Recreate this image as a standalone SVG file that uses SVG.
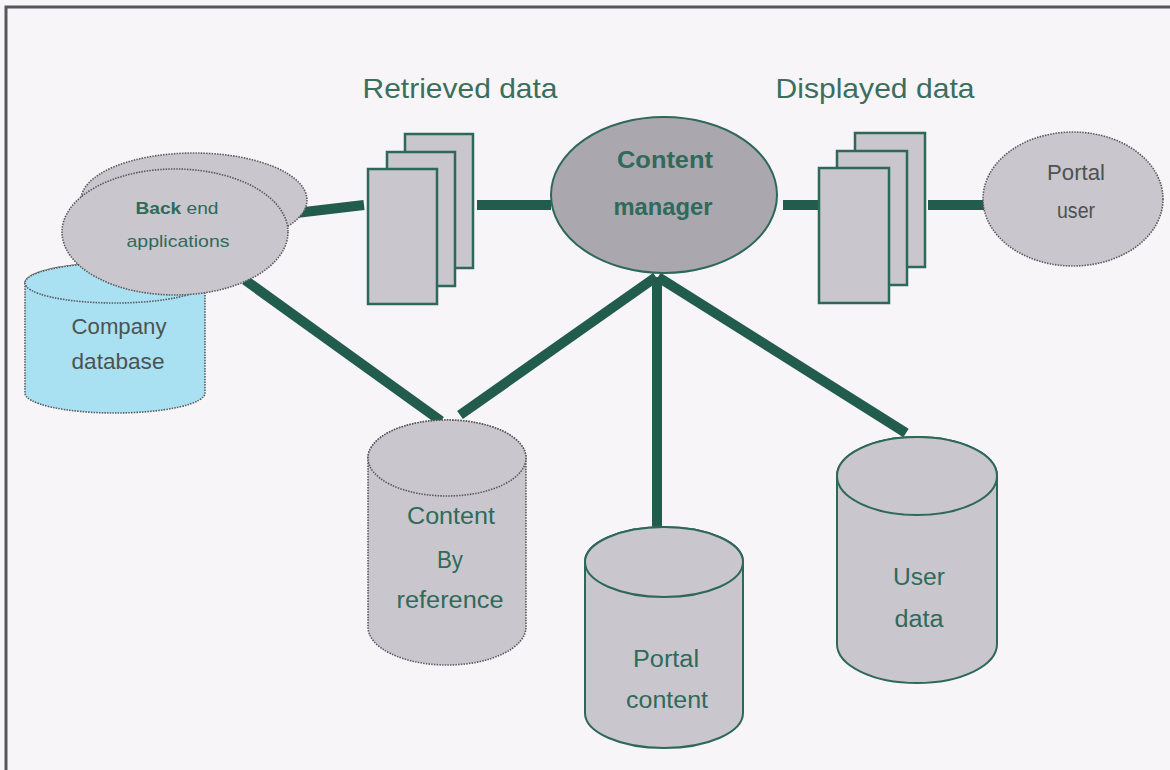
<svg xmlns="http://www.w3.org/2000/svg" width="1170" height="770" viewBox="0 0 1170 770">
  <style>
    .bg { fill: #f8f5f9; }
    .frame { fill: none; stroke: #55575a; stroke-width: 3; }
    text { font-family: "Liberation Sans", Arial, sans-serif; text-anchor: middle; }
    .title { font-size: 28px; fill: #3b6e5c; }
    .lbl { font-size: 23px; fill: #2f6a5a; }
    .lbl-gray { font-size: 22px; fill: #4d5350; }
    .lbl-small { font-size: 17px; fill: #2f6a5a; }
    .lbl-bold { font-size: 23px; font-weight: bold; fill: #2f6a5a; }
    .shape-dotted { fill: #c9c6cd; stroke: #5a5a5e; stroke-width: 1.6; stroke-dasharray: 1.5 1.2; }
    .shape-solid { fill: #c9c6cd; stroke: #2e6858; stroke-width: 2; }
    .db-blue { fill: #a9e0f2; stroke: #5a5a5e; stroke-width: 1.6; stroke-dasharray: 1.5 1.2; }
    .cm { fill: #aaa7af; stroke: #2e6858; stroke-width: 2; }
    .page { fill: #c9c6cd; stroke: #2e6858; stroke-width: 2.5; }
    .link { stroke: #215c4c; stroke-width: 10; fill: none; stroke-linecap: butt; }
  </style>

  <rect class="bg" x="0" y="0" width="1170" height="770"/>
  <rect class="frame" x="6" y="7" width="1180" height="780"/>

  <!-- section titles -->
  <text class="title" x="460" y="98" textLength="195" lengthAdjust="spacingAndGlyphs">Retrieved data</text>
  <text class="title" x="875" y="98" textLength="199" lengthAdjust="spacingAndGlyphs">Displayed data</text>

  <!-- connectors -->
  <g id="connectors">
    <line class="link" x1="296" y1="213" x2="364" y2="205"/>
    <line class="link" x1="477" y1="205" x2="551" y2="205"/>
    <line class="link" x1="783" y1="205" x2="820" y2="205"/>
    <line class="link" x1="928" y1="205" x2="984" y2="205"/>
    <line class="link" x1="245" y1="280" x2="441" y2="421"/>
    <line class="link" x1="656" y1="277" x2="460" y2="415"/>
    <line class="link" x1="657" y1="277" x2="657" y2="528"/>
    <line class="link" x1="658" y1="277" x2="906" y2="433"/>
  </g>

  <!-- company database (behind the applications) -->
  <g id="company-database">
    <path class="db-blue" d="M25,283 A90,20 0 0 1 205,283 L205,393 A90,20 0 0 1 25,393 Z"/>
    <ellipse class="db-blue" cx="115" cy="283" rx="90" ry="20"/>
    <text class="lbl-gray" x="119" y="334" textLength="95" lengthAdjust="spacingAndGlyphs">Company</text>
    <text class="lbl-gray" x="118" y="369" textLength="93" lengthAdjust="spacingAndGlyphs">database</text>
  </g>

  <!-- back end applications (stacked ellipses) -->
  <g id="back-end-applications">
    <ellipse class="shape-dotted" cx="194" cy="200" rx="113" ry="47"/>
    <ellipse class="shape-dotted" cx="175" cy="232" rx="113" ry="63"/>
    <text class="lbl-small" x="177" y="214" textLength="83" lengthAdjust="spacingAndGlyphs"><tspan font-weight="bold">Back</tspan> end</text>
    <text class="lbl-small" x="178" y="247" textLength="103" lengthAdjust="spacingAndGlyphs">applications</text>
  </g>

  <!-- retrieved data pages -->
  <g id="retrieved-data">
    <rect class="page" x="405" y="134" width="68" height="134"/>
    <rect class="page" x="387" y="152" width="68" height="134"/>
    <rect class="page" x="368" y="169" width="69" height="135"/>
  </g>

  <!-- content manager -->
  <g id="content-manager">
    <ellipse class="cm" cx="664" cy="195" rx="113" ry="78"/>
    <text class="lbl-bold" x="665" y="168" textLength="96" lengthAdjust="spacingAndGlyphs">Content</text>
    <text class="lbl-bold" x="663" y="215" textLength="99" lengthAdjust="spacingAndGlyphs">manager</text>
  </g>

  <!-- displayed data pages -->
  <g id="displayed-data">
    <rect class="page" x="855" y="133" width="70" height="134"/>
    <rect class="page" x="837" y="151" width="70" height="134"/>
    <rect class="page" x="819" y="168" width="70" height="135"/>
  </g>

  <!-- portal user -->
  <g id="portal-user">
    <ellipse class="shape-dotted" cx="1073" cy="199" rx="90" ry="67"/>
    <text class="lbl-gray" x="1076" y="180" textLength="58" lengthAdjust="spacingAndGlyphs">Portal</text>
    <text class="lbl-gray" x="1076" y="218" textLength="38" lengthAdjust="spacingAndGlyphs">user</text>
  </g>

  <!-- content by reference -->
  <g id="content-by-reference">
    <path class="shape-dotted" d="M368,458 A79,38 0 0 1 526,458 L526,627 A79,38 0 0 1 368,627 Z"/>
    <ellipse class="shape-dotted" cx="447" cy="458" rx="79" ry="38"/>
    <text class="lbl" x="451" y="524" textLength="88" lengthAdjust="spacingAndGlyphs">Content</text>
    <text class="lbl" x="450" y="568" textLength="26" lengthAdjust="spacingAndGlyphs">By</text>
    <text class="lbl" x="450" y="608" textLength="107" lengthAdjust="spacingAndGlyphs">reference</text>
  </g>

  <!-- portal content -->
  <g id="portal-content">
    <path class="shape-solid" d="M585,562 A79,35 0 0 1 743,562 L743,713 A79,35 0 0 1 585,713 Z"/>
    <ellipse class="shape-solid" cx="664" cy="562" rx="79" ry="35"/>
    <text class="lbl" x="666" y="667" textLength="66" lengthAdjust="spacingAndGlyphs">Portal</text>
    <text class="lbl" x="667" y="708" textLength="82" lengthAdjust="spacingAndGlyphs">content</text>
  </g>

  <!-- user data -->
  <g id="user-data">
    <path class="shape-solid" d="M837,476 A80,39 0 0 1 997,476 L997,644 A80,39 0 0 1 837,644 Z"/>
    <ellipse class="shape-solid" cx="917" cy="476" rx="80" ry="39"/>
    <text class="lbl" x="919" y="585" textLength="52" lengthAdjust="spacingAndGlyphs">User</text>
    <text class="lbl" x="919" y="627" textLength="49" lengthAdjust="spacingAndGlyphs">data</text>
  </g>
</svg>
